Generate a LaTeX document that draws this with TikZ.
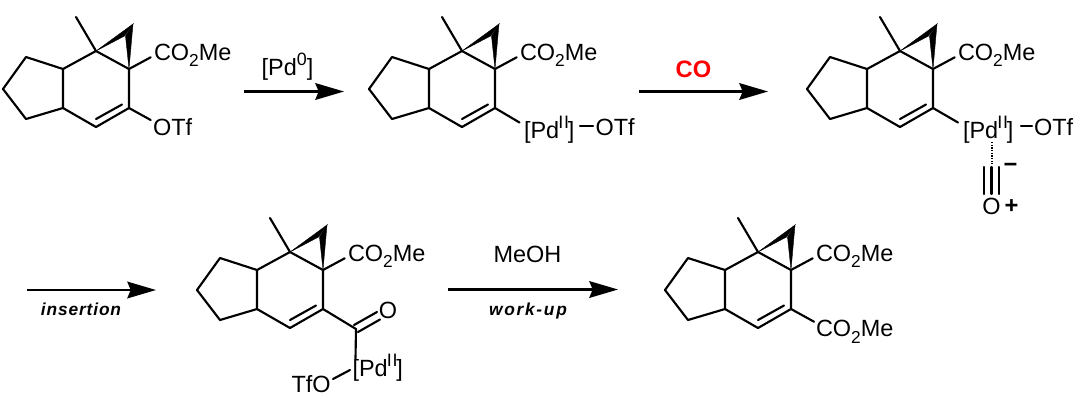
\documentclass[tikz,border=0pt]{standalone}
\usepackage{fontspec}
\setmainfont{Liberation Sans}
\usetikzlibrary{arrows.meta}
\newcommand{\subtwo}{\raisebox{-0.27em}{\fontsize{13pt}{14pt}\selectfont 2}}
\newcommand{\pdtwo}{[Pd\kern-0.6pt\raisebox{0.42em}{\fontsize{13.5pt}{14pt}\selectfont I\kern0.5pt I}\kern-0.9pt]}
\newcommand{\coome}{CO\subtwo Me}
\tikzset{
  x=0.75pt,y=-0.75pt,
  bondline/.style={line width=1.6pt,line cap=round,line join=round},
  wedgebond/.style={fill=black,draw=black,line width=0.3pt,line join=miter},
  atomlabel/.style={inner sep=0pt,outer sep=0pt,font=\fontsize{17.6pt}{20pt}\selectfont},
  reagent/.style={inner sep=0pt,outer sep=0pt,font=\fontsize{17.6pt}{20pt}\selectfont},
  condition/.style={inner sep=0pt,outer sep=0pt},
  rxnarrow/.style={line width=1.7pt,-{Stealth[length=21.5pt,width=12.5pt,inset=2.5pt]}},
}
\newcommand{\skeleton}[3]{%
  \begin{scope}[shift={(#2,#3)}]
    \coordinate (#1me) at (76,17);
    \coordinate (#1a) at (96,51);
    \coordinate (#1ap) at (133,24);
    \coordinate (#1ww) at (124.5,36);
    \coordinate (#1wv) at (125.5,36);
    \coordinate (#1b) at (129,69);
    \coordinate (#1c) at (129,108);
    \coordinate (#1d) at (96,127);
    \coordinate (#1e) at (63,108);
    \coordinate (#1f) at (63,69);
    \coordinate (#1g) at (26,57);
    \coordinate (#1h) at (3,89);
    \coordinate (#1i) at (26,119);
    \coordinate (#1di) at (96,119);
    \coordinate (#1ci) at (122,104.5);
    \coordinate (#1co) at (150.7,57.3);
    \draw[bondline] (#1me) -- (#1a) -- (#1f) -- (#1g) -- (#1h) -- (#1i) -- (#1e) -- (#1f);
    \draw[bondline] (#1e) -- (#1d) -- (#1c) -- (#1b) -- (#1a);
    \draw[bondline] (#1di) -- (#1ci);
    \draw[bondline] (#1b) -- (#1co);
    \fill[wedgebond] (#1a) -- (#1ap) -- (#1ww) -- cycle;
    \fill[wedgebond] (#1b) -- (#1ap) -- (#1wv) -- cycle;
    \node[atomlabel,anchor=base west] (#1colabel) at (154,60) {\coome};
  \end{scope}}
\begin{document}
\begin{tikzpicture}
\useasboundingbox (0,0) rectangle (1084,405);

% molecule 1
\skeleton{p}{0}{0}
\node[atomlabel,anchor=base west] (potf) at (153,135.6) {OTf};
\coordinate (pob) at (150.7,120);
\draw[bondline] (pc) -- (pob);

% arrow 1
\coordinate (a1s) at (244,91.5);
\coordinate (a1e) at (344,91.5);
\draw[rxnarrow] (a1s) -- (a1e);
\node[reagent,anchor=base] (a1t) at (287.5,75) {[Pd\raisebox{0.42em}{\fontsize{13.4pt}{14pt}\selectfont 0}]};

% molecule 2
\skeleton{q}{366}{0}
\node[atomlabel,anchor=base west] (qpd) at (524,138) {\pdtwo};
\node[atomlabel,anchor=base west] (qotf) at (595.5,135.6) {OTf};
\coordinate (qpb) at (519.5,122.5);
\coordinate (qb1) at (580,126);
\coordinate (qb2) at (593,126);
\draw[bondline] (qc) -- (qpb);
\draw[bondline] (qb1) -- (qb2);

% arrow 2
\coordinate (a2s) at (639,91.5);
\coordinate (a2e) at (768,91.5);
\draw[rxnarrow] (a2s) -- (a2e);
\node[reagent,anchor=base,text=red,font=\fontsize{17.8pt}{20pt}\selectfont\bfseries] (a2t) at (693.5,77) {CO};

% molecule 3
\skeleton{r}{804}{0}
\node[atomlabel,anchor=base west] (rpd) at (963,138) {\pdtwo};
\node[atomlabel,anchor=base west] (rotf) at (1034,135.6) {OTf};
\coordinate (rpb) at (958,122.5);
\coordinate (rb1) at (1021,126);
\coordinate (rb2) at (1032,126);
\draw[bondline] (rc) -- (rpb);
\draw[bondline] (rb1) -- (rb2);
\coordinate (rd1) at (991.5,142);
\coordinate (rd2) at (991.5,164);
\draw[line width=1.5pt,dash pattern=on 1pt off 1pt] (rd1) -- (rd2);
\coordinate (rt1) at (984,167);
\coordinate (rt2) at (984,194);
\coordinate (rt3) at (991.5,167);
\coordinate (rt4) at (991.5,194);
\coordinate (rt5) at (999,167);
\coordinate (rt6) at (999,194);
\draw[bondline] (rt1) -- (rt2) (rt3) -- (rt4) (rt5) -- (rt6);
\node[atomlabel,anchor=base] (roxy) at (991.5,214) {O};
\node[atomlabel,font=\fontsize{17.8pt}{20pt}\selectfont\bfseries] (rplus) at (1011.5,207) {+};
\node[atomlabel,font=\fontsize{17.8pt}{20pt}\selectfont\bfseries] (rminus) at (1010.5,168) {−};

% arrow 3
\coordinate (a3s) at (27,290);
\coordinate (a3e) at (156,290);
\draw[rxnarrow] (a3s) -- (a3e);
\node[condition,anchor=base,font=\fontsize{13pt}{14pt}\selectfont\bfseries\itshape\addfontfeatures{LetterSpace=5}] (a3t) at (81,315) {insertion};

% molecule 4
\skeleton{s}{194}{201}
\coordinate (scc) at (356,329);
\coordinate (sd1) at (354,325);
\coordinate (sd2) at (377,312);
\coordinate (sd3) at (358,332);
\coordinate (sd4) at (380,319.5);
\coordinate (spd) at (355.5,358.5);
\coordinate (st1) at (333,379);
\coordinate (st2) at (350,370);
\draw[bondline] (sc) -- (scc) -- (spd);
\draw[bondline] (sd1) -- (sd2) (sd3) -- (sd4);
\node[atomlabel] (soxy) at (388,310) {O};
\node[atomlabel,anchor=base west] (spdl) at (352.5,376.7) {\pdtwo};
\node[atomlabel,anchor=base west] (stfo) at (291.5,392) {TfO};
\draw[bondline] (st1) -- (st2);

% arrow 4
\coordinate (a4s) at (448,289.5);
\coordinate (a4e) at (618,289.5);
\draw[rxnarrow] (a4s) -- (a4e);
\node[reagent,anchor=base] (a4t) at (527.5,262) {MeOH};
\node[condition,anchor=base,font=\fontsize{13pt}{14pt}\selectfont\bfseries\itshape\addfontfeatures{LetterSpace=10}] (a4b) at (528,315) {work-up};

% molecule 5
\skeleton{t}{662}{201}
\coordinate (tco) at (814,321.7);
\draw[bondline] (tc) -- (tco);
\node[atomlabel,anchor=base west] (tcol) at (816,336.7) {\coome};
\end{tikzpicture}
\end{document}
